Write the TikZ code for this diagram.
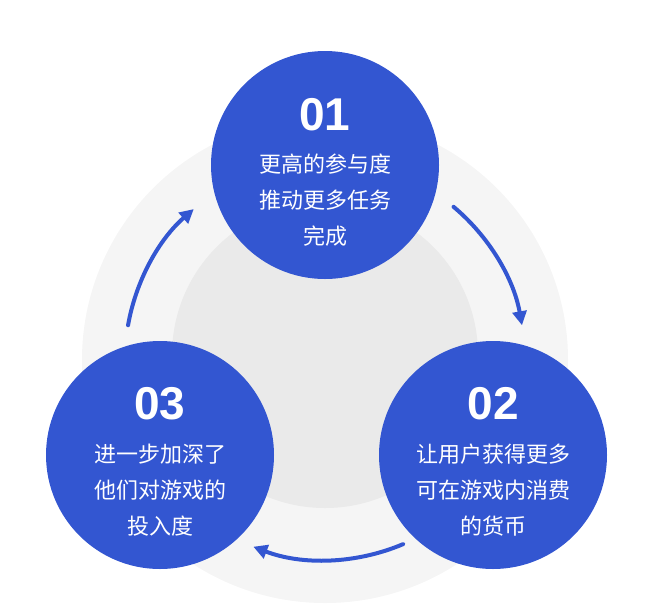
\documentclass[tikz,border=0pt]{standalone}
\usepackage{fontspec}
\newfontfamily\cjk{Noto Sans CJK SC}
\newfontfamily\numfont{Liberation Sans}
\usetikzlibrary{arrows.meta}
\definecolor{stepblue}{HTML}{3356D1}
\definecolor{ringout}{HTML}{F5F5F5}
\definecolor{ringin}{HTML}{EAEAEA}
\begin{document}
\begin{tikzpicture}[x=1pt,y=-1pt, line cap=round,
    stage/.style={circle, fill=stepblue, minimum size=228pt, inner sep=0pt},
    num/.style={text=white, font=\numfont\bfseries\fontsize{46}{46}\selectfont},
    txt/.style={text=white, align=center, font=\cjk\fontsize{22}{36}\selectfont},
    flow/.style={stepblue, line width=4pt, -{Triangle[length=14pt,width=14pt]}}]
  \useasboundingbox (0,0) rectangle (650,603);
  \fill[ringout] (325,360) circle (243);
  \fill[ringin] (325,355) circle (153);

  \node[stage] (one) at (325,165) {};
  \node[stage] (two) at (493,455) {};
  \node[stage] (three) at (160,455) {};

  \node[num] (n1) at (325,115) {01};
  \node[num] (n2) at (493,404) {02};
  \node[num] (n3) at (160,404) {03};
  \node[txt] at (325,200) {更高的参与度\\推动更多任务\\完成};
  \node[txt] at (493,490) {让用户获得更多\\可在游戏内消费\\的货币};
  \node[txt] at (160,490) {进一步加深了\\他们对游戏的\\投入度};

  \coordinate (c) at (325,360);
  \draw[flow] ([shift={(-50:200)}]c) arc[start angle=-50, end angle=-10, radius=200];
  \draw[flow] ([shift={(67:200)}]c) arc[start angle=67, end angle=111, radius=200];
  \draw[flow] ([shift={(190:200)}]c) arc[start angle=190, end angle=229, radius=200];
\end{tikzpicture}
\end{document}
